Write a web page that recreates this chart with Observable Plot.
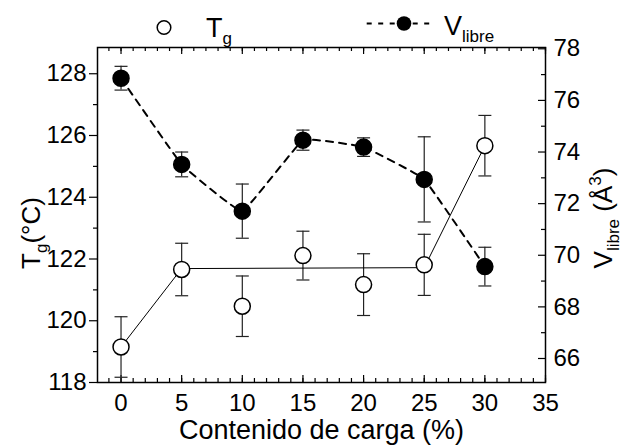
<!DOCTYPE html>
<html><head><meta charset="utf-8">
<script src="https://cdn.jsdelivr.net/npm/d3@7"></script>
<script src="https://cdn.jsdelivr.net/npm/@observablehq/plot@0.6"></script>
<style>
body{margin:0;background:#fff;}
#chart{position:relative;width:630px;height:447px;font-family:Liberation Sans,Arial,sans-serif;}
#chart svg text{font-family:Liberation Sans,Arial,sans-serif;}
#legend{position:absolute;left:0;top:0;}
</style></head><body><div id="chart"></div>
<script>
// ---- data ----
const carga = [0, 5, 10, 15, 20, 25, 30];
const tg = [119.15, 121.66, 120.47, 122.11, 121.17, 121.81, 125.67];
const tgErr = [0.98, 0.85, 0.98, 0.79, 1.0, 0.99, 0.98];
const vLibre = [76.86, 73.52, 71.71, 74.46, 74.19, 72.94, 69.56];
const vErr = [0.46, 0.48, 1.05, 0.39, 0.36, 1.65, 0.75];
const tgLineX = [0, 5, 25, 30];
const tgLineY = [119.15, 121.69, 121.72, 125.67];
const xTicks = [0, 5, 10, 15, 20, 25, 30, 35];
const xMinor = d3.range(-1, 36);
const tgTicks = [118, 120, 122, 124, 126, 128];
const tgMinor = [119, 121, 123, 125, 127];
const vTicks = [66, 68, 70, 72, 74, 76, 78];
const vMinor = [67, 69, 71, 73, 75, 77];

// ---- layout ----
const width = 630, height = 447;
const mL = 97, mR = 85, mT = 47, mB = 65;
const W = width - mL - mR, H = height - mT - mB;
const tgDomain = [118, 128.85];
const vDomain = [65.07, 78.05];
const toY = v => tgDomain[0] + (v - vDomain[0]) * (tgDomain[1] - tgDomain[0]) / (vDomain[1] - vDomain[0]);

const tgData = carga.map((c, i) => ({x: c, y: tg[i], lo: tg[i] - tgErr[i], hi: tg[i] + tgErr[i]}));
const vData = carga.map((c, i) => ({x: c, y: toY(vLibre[i]), lo: toY(vLibre[i] - vErr[i]), hi: toY(vLibre[i] + vErr[i])}));
const tgLine = tgLineX.map((x, i) => ({x, y: tgLineY[i]}));

const cap = {draw(ctx) { ctx.moveTo(-6.5, 0); ctx.lineTo(6.5, 0); }};
const font = "Liberation Sans, Arial, sans-serif";

const chart = Plot.plot({
  width, height,
  marginLeft: mL, marginRight: mR, marginTop: mT, marginBottom: mB,
  x: {domain: [-1.94, 35], axis: null},
  y: {domain: tgDomain, axis: null},
  style: {fontFamily: font, background: "white", color: "black"},
  marks: [
    // ticks
    Plot.tickX(xMinor, {x: d => d, insetTop: H - 4, strokeWidth: 1.2}),
    Plot.tickX(xTicks, {x: d => d, insetTop: H - 7, strokeWidth: 1.2}),
    Plot.tickX(xMinor, {x: d => d, insetBottom: H - 4, strokeWidth: 1.2}),
    Plot.tickX(xTicks, {x: d => d, insetBottom: H - 7, strokeWidth: 1.2}),
    Plot.tickY(tgTicks, {y: d => d, insetRight: W - 8, dx: -8, strokeWidth: 1.2}),
    Plot.tickY(tgMinor, {y: d => d, insetRight: W - 4, dx: -4, strokeWidth: 1.2}),
    Plot.tickY(vTicks, {y: toY, insetLeft: W - 7, strokeWidth: 1.2}),
    Plot.tickY(vMinor, {y: toY, insetLeft: W - 4, strokeWidth: 1.2}),
    // tick labels
    Plot.text(xTicks, {x: d => d, text: d => String(d), frameAnchor: "bottom", lineAnchor: "top", dy: 11, fontSize: 24}),
    Plot.text(tgTicks, {y: d => d, text: d => String(d), frameAnchor: "left", textAnchor: "end", dx: -11, fontSize: 24}),
    Plot.text(vTicks, {y: toY, text: d => String(d), frameAnchor: "right", textAnchor: "start", dx: 8, fontSize: 24}),
    // axis titles
    Plot.text(["Contenido de carga (%)"], {text: d => d, frameAnchor: "bottom", lineAnchor: "top", textAnchor: "middle", dy: 37, fontSize: 27}),
    Plot.text(["T_{g}(°C)"], {text: d => d, frameAnchor: "left", textAnchor: "middle", rotate: -90, dx: -66, dy: 18, fontSize: 26}),
    Plot.text(["V_{libre} (Å^{3})"], {text: d => d, frameAnchor: "right", textAnchor: "middle", rotate: -90, dx: 58, dy: 3, fontSize: 26}),
    // error bars
    Plot.ruleX(tgData, {x: "x", y1: "lo", y2: "hi", stroke: "#222", strokeWidth: 1.2}),
    Plot.dot(tgData, {x: "x", y: "hi", symbol: cap, stroke: "#222", strokeWidth: 1.2, fill: "none"}),
    Plot.dot(tgData, {x: "x", y: "lo", symbol: cap, stroke: "#222", strokeWidth: 1.2, fill: "none"}),
    Plot.ruleX(vData, {x: "x", y1: "lo", y2: "hi", stroke: "#222", strokeWidth: 1.2}),
    Plot.dot(vData, {x: "x", y: "hi", symbol: cap, stroke: "#222", strokeWidth: 1.2, fill: "none"}),
    Plot.dot(vData, {x: "x", y: "lo", symbol: cap, stroke: "#222", strokeWidth: 1.2, fill: "none"}),
    // lines
    Plot.line(tgLine, {x: "x", y: "y", stroke: "black", strokeWidth: 1}),
    Plot.line(vData, {x: "x", y: "y", curve: "cardinal", tension: 0.75, stroke: "black", strokeWidth: 2, strokeDasharray: "7,6"}),
    // points
    Plot.dot(vData, {x: "x", y: "y", r: 8, fill: "black", stroke: "black"}),
    Plot.dot(tgData, {x: "x", y: "y", r: 8, fill: "white", stroke: "black", strokeWidth: 1.5}),
    Plot.frame({stroke: "black", strokeWidth: 1.5})
  ]
});

// sub/superscripts in titles
d3.select(chart).selectAll("text").each(function () {
  const t = this.textContent;
  if (!/[_^]\{/.test(t)) return;
  const el = d3.select(this);
  el.text(null);
  const re = /([_^])\{([^}]*)\}|([^_^]+)/g;
  let m, shift = 0;
  while ((m = re.exec(t))) {
    if (m[3]) {
      el.append("tspan").attr("dy", -shift).text(m[3]);
      shift = 0;
    } else {
      const s = m[1] === "_" ? 7 : -11;
      el.append("tspan").attr("dy", s - shift).attr("font-size", 17).text(m[2]);
      shift = s;
    }
  }
});

const root = document.getElementById("chart");
root.appendChild(chart);

// legend (above the frame)
const lg = d3.select(root).append("svg").attr("id", "legend")
  .attr("width", width).attr("height", mT)
  .style("font-family", font);
const t1 = lg.append("text").attr("x", 206).attr("y", 36.5).attr("font-size", 27).text("T");
t1.append("tspan").attr("dy", 7).attr("font-size", 17).text("g");
lg.append("circle").attr("cx", 164).attr("cy", 27.5).attr("r", 6.8).attr("fill", "white").attr("stroke", "black").attr("stroke-width", 1.5);
lg.append("line").attr("x1", 366.7).attr("x2", 432).attr("y1", 23.5).attr("y2", 23.5)
  .attr("stroke", "black").attr("stroke-width", 2).attr("stroke-dasharray", "5,6.5");
lg.append("circle").attr("cx", 404).attr("cy", 23.5).attr("r", 7.3).attr("fill", "black");
const t2 = lg.append("text").attr("x", 444).attr("y", 35).attr("font-size", 27).text("V");
t2.append("tspan").attr("dy", 6.7).attr("font-size", 17).text("libre");
</script>
</body></html>
